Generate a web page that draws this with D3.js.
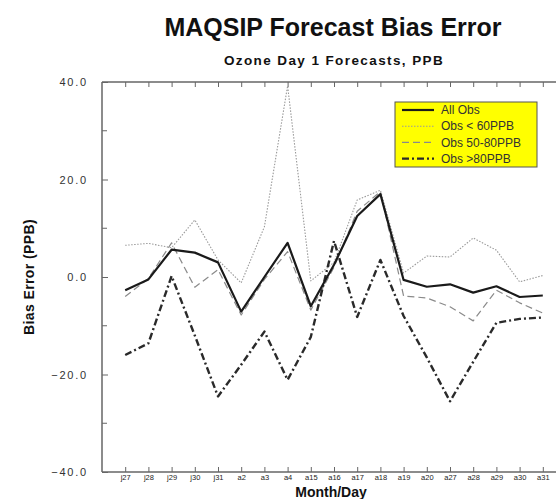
<!DOCTYPE html>
<html>
<head>
<meta charset="utf-8">
<script src="https://cdn.jsdelivr.net/npm/d3@7"></script>
<style>
  html, body { margin: 0; padding: 0; background: #fff; }
  svg { display: block; }
</style>
</head>
<body>
<script>
// Month/day labels along the x axis (j = July, a = August)
const days = ["j27","j28","j29","j30","j31","a2","a3","a4","a15","a16","a17","a18","a19","a20","a27","a28","a29","a30","a31"];

// Bias error (PPB) per forecast day
const allObs = [-2.7, -0.5, 5.6, 5.0, 3.0, -7.1, 0.0, 7.0, -6.0, 2.5, 12.5, 17.0, -0.6, -2.0, -1.5, -3.2, -1.9, -4.1, -3.8];
const obsLow = [6.5, 6.9, 6.0, 11.7, 3.5, -1.2, 10.3, 39.2, -0.8, 3.0, 15.8, 17.8, 0.8, 4.3, 4.1, 8.0, 5.5, -1.0, 0.3];
const obsMid = [-4.0, -0.3, 7.0, -2.1, 1.5, -7.8, -0.5, 5.2, -6.8, 2.0, 13.5, 17.5, -3.9, -4.3, -6.1, -9.0, -2.7, -5.3, -7.4];
const obsHigh = [-16.0, -13.6, 0.2, -12.0, -24.5, -18.0, -11.2, -21.1, -12.3, 7.4, -8.2, 3.5, -8.0, -16.5, -25.5, -17.4, -9.4, -8.6, -8.3];

const yTicks = [-40, -20, 0, 20, 40];
const yMinorTicks = [-30, -10, 10, 30];

const seriesNames = ["All Obs", "Obs < 60PPB", "Obs 50-80PPB", "Obs >80PPB"];

const W = 556, H = 499;
const frame = { left: 102, right: 566, top: 82, bottom: 472 };

const svg = d3.select("body").append("svg")
  .attr("width", W).attr("height", H)
  .style("font-family", "'Liberation Sans', Arial, sans-serif");

const x = d3.scalePoint().domain(days).range([frame.left, frame.right]).padding(1);
const y = d3.scaleLinear().domain([-40, 40]).range([frame.bottom, frame.top]);

// Titles
svg.append("text").attr("x", 333).attr("y", 36).attr("text-anchor", "middle")
  .attr("font-size", 25).attr("font-weight", "bold").attr("fill", "#111")
  .text("MAQSIP Forecast Bias Error");
svg.append("text").attr("x", 334).attr("y", 65).attr("text-anchor", "middle")
  .attr("font-size", 13.5).attr("font-weight", "bold").attr("letter-spacing", 1.4).attr("fill", "#111")
  .text("Ozone Day 1 Forecasts, PPB");

// Plot frame
const axisColor = "#666";
[[frame.left, frame.top, frame.right, frame.top],
 [frame.left, frame.bottom, frame.right, frame.bottom],
 [frame.left, frame.top, frame.left, frame.bottom],
 [frame.right, frame.top, frame.right, frame.bottom]].forEach(([x1, y1, x2, y2]) => {
  svg.append("line").attr("x1", x1).attr("y1", y1).attr("x2", x2).attr("y2", y2)
    .attr("stroke", axisColor).attr("stroke-width", 1.5);
});

// Y axis: inward ticks, labels to the left
const yAxis = d3.axisLeft(y).tickValues(yTicks).tickSize(-6).tickPadding(14)
  .tickFormat(d3.format(".1f"));
const gy = svg.append("g").attr("transform", `translate(${frame.left},0)`).call(yAxis);
gy.select(".domain").remove();
gy.selectAll(".tick line").attr("stroke", axisColor);
gy.selectAll(".tick text").attr("font-size", 11).attr("letter-spacing", 1.8)
  .attr("fill", "#333").attr("font-family", "'Liberation Sans', Arial, sans-serif");
svg.append("g").selectAll("line").data(yMinorTicks).join("line")
  .attr("x1", frame.left).attr("x2", frame.left + 5)
  .attr("y1", d => y(d)).attr("y2", d => y(d)).attr("stroke", axisColor);

// X axis: inward ticks at bottom and top
const xAxis = d3.axisBottom(x).tickSize(-5).tickPadding(3);
const gx = svg.append("g").attr("transform", `translate(0,${frame.bottom})`).call(xAxis);
gx.select(".domain").remove();
gx.selectAll(".tick line").attr("stroke", axisColor);
gx.selectAll(".tick text").attr("font-size", 7.5).attr("fill", "#222")
  .attr("font-family", "'Liberation Sans', Arial, sans-serif");
const gxTop = svg.append("g").attr("transform", `translate(0,${frame.top})`)
  .call(d3.axisTop(x).tickSize(-5).tickFormat(""));
gxTop.select(".domain").remove();
gxTop.selectAll(".tick line").attr("stroke", axisColor);

// Axis titles
svg.append("text").attr("x", 331).attr("y", 496.5).attr("text-anchor", "middle")
  .attr("font-size", 14).attr("font-weight", "bold").attr("fill", "#111").text("Month/Day");
svg.append("text").attr("transform", `translate(34,${(frame.top + frame.bottom) / 2}) rotate(-90)`)
  .attr("text-anchor", "middle").attr("font-size", 14).attr("font-weight", "bold")
  .attr("letter-spacing", 0.4).attr("fill", "#111").text("Bias Error (PPB)");

// Series styles
const styles = [
  { color: "#1a1a1a", width: 2.2, dash: null },
  { color: "#9a9a9a", width: 1.1, dash: "1.5,1.5" },
  { color: "#8a8a8a", width: 1.2, dash: "7,4" },
  { color: "#2a2a2a", width: 2.4, dash: "7,3,2,3" }
];
const seriesValues = [allObs, obsLow, obsMid, obsHigh];

const line = d3.line().x((d, i) => x(days[i])).y(d => y(d));
const drawOrder = [1, 2, 3, 0];
drawOrder.forEach(k => {
  svg.append("path").datum(seriesValues[k])
    .attr("d", line).attr("fill", "none")
    .attr("stroke", styles[k].color).attr("stroke-width", styles[k].width)
    .attr("stroke-dasharray", styles[k].dash)
    .attr("stroke-linejoin", "round");
});

// Legend
const lg = svg.append("g");
lg.append("rect").attr("x", 395).attr("y", 102).attr("width", 142).attr("height", 65)
  .attr("fill", "#ffff00").attr("stroke", "#555").attr("stroke-width", 1);
seriesNames.forEach((name, i) => {
  const yy = 110 + i * 16.2;
  lg.append("line").attr("x1", 402).attr("x2", 434).attr("y1", yy).attr("y2", yy)
    .attr("stroke", styles[i].color).attr("stroke-width", styles[i].width)
    .attr("stroke-dasharray", styles[i].dash);
  lg.append("text").attr("x", 441).attr("y", yy).attr("dy", "0.35em")
    .attr("font-size", 12).attr("fill", "#333").text(name);
});
</script>
</body>
</html>
